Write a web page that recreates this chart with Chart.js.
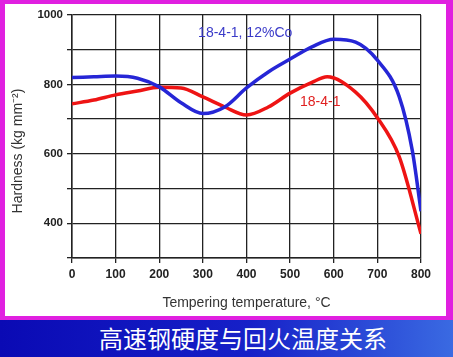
<!DOCTYPE html>
<html>
<head>
<meta charset="utf-8">
<script src="https://cdn.jsdelivr.net/npm/chart.js@4/dist/chart.umd.min.js"></script>
<style>
  html, body { margin: 0; padding: 0; }
  body { width: 453px; height: 357px; position: relative; overflow: hidden; background: #2040d0; }
  #frame { position: absolute; left: 0; top: 0; width: 453px; height: 320px; background: #e020e0; }
  #panel { position: absolute; left: 5px; top: 4px; width: 441px; height: 312px; background: #fff; }
  #band { position: absolute; left: 0; top: 320px; width: 453px; height: 37px;
          background: linear-gradient(90deg, #0a0ab4 0%, #1620c8 55%, #3a6ae2 100%); }
  #title { position: absolute; left: 0; top: 319px; width: 486px; height: 37px; line-height: 37px;
           text-align: center; color: #fff; font-family: "Noto Sans CJK SC", sans-serif; font-size: 24px; }
  #wrap { position: absolute; left: 5px; top: 4px; width: 441px; height: 312px; }
</style>
</head>
<body>
<div id="frame"></div>
<div id="panel"></div>
<div id="band"></div>
<div id="title">高速钢硬度与回火温度关系</div>
<div id="wrap"><canvas id="chart"></canvas></div>
<script>
// temperatures (°C) and hardness readings
const tempsCo = [0, 50, 100, 150, 200, 250, 300, 350, 400, 450, 500, 550, 600, 650, 700, 750, 780, 800];
const hardCo  = [820, 822, 824, 818, 793, 747, 716, 735, 790, 836, 873, 908, 930, 922, 870, 765, 610, 435];

const tempsStd = [0, 50, 100, 150, 200, 250, 300, 350, 400, 450, 500, 550, 585, 650, 700, 750, 800];
const hardStd  = [744, 755, 770, 781, 792, 790, 764, 735, 712, 735, 775, 806, 822, 778, 704, 592, 370];

const xTicks = [0, 100, 200, 300, 400, 500, 600, 700, 800];
const yLabels = [400, 600, 800, 1000];

const seriesLabels = [
  { text: '18-4-1, 12%Co', x: 397, y: 948, color: '#3a3ac8' },
  { text: '18-4-1', x: 569, y: 750, color: '#e02020' }
];

const toPoints = (xs, ys) => xs.map((x, i) => ({ x: x, y: ys[i] }));

// curve labels inside the plot + the y axis title (sits lower than chart.js would put it)
const curveLabels = {
  id: 'curveLabels',
  afterDatasetsDraw(chart) {
    const { ctx, scales } = chart;
    ctx.save();
    ctx.font = '14px "Liberation Sans", Arial, sans-serif';
    ctx.textAlign = 'center';
    ctx.textBaseline = 'middle';
    seriesLabels.forEach(l => {
      ctx.fillStyle = l.color;
      ctx.fillText(l.text, scales.x.getPixelForValue(l.x), scales.y.getPixelForValue(l.y));
    });
    ctx.font = '14px "Liberation Sans", Arial, sans-serif';
    ctx.fillStyle = '#333';
    ctx.translate(13, 147);
    ctx.rotate(-Math.PI / 2);
    ctx.fillText('Hardness (kg mm⁻²)', 0, 0);
    ctx.restore();
  }
};

new Chart(document.getElementById('chart'), {
  type: 'line',
  data: {
    datasets: [{
      data: toPoints(tempsCo, hardCo),
      borderColor: '#2626d6',
      borderWidth: 3.5,
      pointRadius: 0,
      cubicInterpolationMode: 'monotone'
    }, {
      data: toPoints(tempsStd, hardStd),
      borderColor: '#ee1414',
      borderWidth: 3.5,
      pointRadius: 0,
      cubicInterpolationMode: 'monotone'
    }]
  },
  options: {
    responsive: true,
    maintainAspectRatio: false,
    animation: false,
    layout: { padding: { left: 0, right: 25, top: 11, bottom: 0 } },
    plugins: { legend: { display: false }, tooltip: { enabled: false } },
    scales: {
      x: {
        type: 'linear', min: 0, max: 800,
        afterFit: s => { s.height = 58; },
        afterBuildTicks: s => { s.ticks = xTicks.map(v => ({ value: v })); },
        grid: { color: '#222', lineWidth: 1.3, tickLength: 5 },
        border: { color: '#222', width: 1.5 },
        ticks: { color: '#222', padding: 4, font: { family: 'Liberation Sans', size: 12, weight: 'bold' } },
        title: { display: true, text: 'Tempering temperature, °C', color: '#333',
                 font: { family: 'Liberation Sans', size: 14 }, padding: { top: 1 } }
      },
      y: {
        min: 300, max: 1000,
        afterFit: s => { s.width = 67; },
        ticks: {
          stepSize: 100,
          color: '#222', padding: 4,
          font: { family: 'Liberation Sans', size: 11.5, weight: 'bold' },
          callback: v => yLabels.includes(v) ? v : ''
        },
        grid: { color: '#222', lineWidth: 1.3, tickLength: 5 },
        border: { color: '#222', width: 1.5 }
      }
    }
  },
  plugins: [curveLabels]
});
</script>
</body>
</html>
